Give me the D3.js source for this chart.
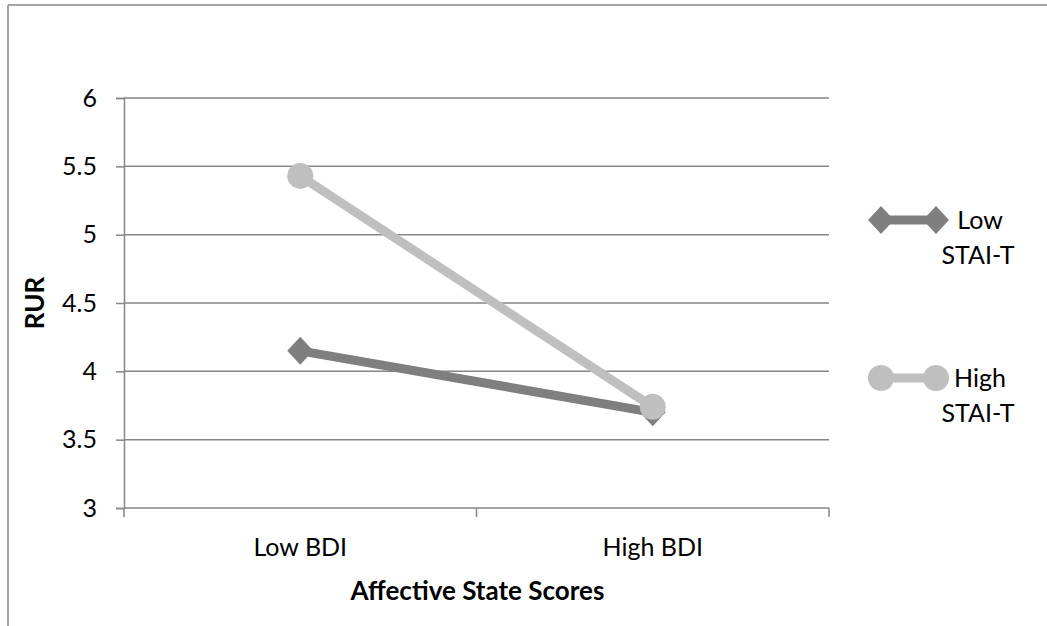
<!DOCTYPE html>
<html>
<head>
<meta charset="utf-8">
<script src="https://cdn.jsdelivr.net/npm/d3@7"></script>
<style>
  html, body { margin: 0; padding: 0; background: #fff; }
  svg { display: block; }
  text { font-family: Lato, "Open Sans", sans-serif; fill: #000; }
</style>
</head>
<body>
<svg id="chart" width="1047" height="626"></svg>
<script>
// Chart data
const categories = ["Low BDI", "High BDI"];
const seriesNames = ["Low STAI-T", "High STAI-T"];
const lowStaiValues = [4.15, 3.70];
const highStaiValues = [5.43, 3.74];
const yTicks = [3, 3.5, 4, 4.5, 5, 5.5, 6];
const xTitle = "Affective State Scores";
const yTitle = "RUR";

const series = [
  { name: seriesNames[0], values: lowStaiValues, color: "#7f7f7f", marker: "diamond", legendLines: ["Low", "STAI-T"] },
  { name: seriesNames[1], values: highStaiValues, color: "#bfbfbf", marker: "circle", legendLines: ["High", "STAI-T"] }
];

const svg = d3.select("#chart");
const W = 1047, H = 626;
const plot = { left: 124, right: 829, top: 98, bottom: 508 };
const gridColor = "#868686";
const fontSize = 25;

// Outer frame (top and left edges visible)
svg.append("line").attr("x1", 8).attr("x2", W).attr("y1", 5).attr("y2", 5)
  .attr("stroke", gridColor).attr("stroke-width", 1.5);
svg.append("line").attr("x1", 8).attr("x2", 8).attr("y1", 5).attr("y2", H)
  .attr("stroke", gridColor).attr("stroke-width", 1.5);

const x = d3.scaleBand().domain(categories).range([plot.left, plot.right]);
const y = d3.scaleLinear().domain([3, 6]).range([plot.bottom, plot.top]);

// Horizontal gridlines
svg.append("g").selectAll("line").data(yTicks.filter(t => t > 3)).join("line")
  .attr("x1", plot.left).attr("x2", plot.right)
  .attr("y1", d => y(d)).attr("y2", d => y(d))
  .attr("stroke", gridColor).attr("stroke-width", 1.5);

// Y axis
const yAxis = svg.append("g").attr("transform", `translate(${plot.left},0)`)
  .call(d3.axisLeft(y).tickValues(yTicks).tickSize(8).tickPadding(19).tickFormat(d3.format("")));
yAxis.select(".domain").attr("stroke", gridColor).attr("stroke-width", 1.5);
yAxis.selectAll(".tick line").attr("stroke", gridColor).attr("stroke-width", 1.5);
yAxis.selectAll("text").attr("font-size", fontSize).style("font-family", "Lato, sans-serif").attr("fill", "#000");

// X axis: ticks at band boundaries
svg.append("line").attr("x1", plot.left).attr("x2", plot.right)
  .attr("y1", plot.bottom).attr("y2", plot.bottom)
  .attr("stroke", gridColor).attr("stroke-width", 1.5);
const boundaries = categories.map(c => x(c)).concat([x(categories[categories.length - 1]) + x.bandwidth()]);
svg.append("g").selectAll("line").data(boundaries).join("line")
  .attr("x1", d => d).attr("x2", d => d)
  .attr("y1", plot.bottom).attr("y2", plot.bottom + 9)
  .attr("stroke", gridColor).attr("stroke-width", 1.5);
svg.append("g").selectAll("text").data(categories).join("text")
  .attr("x", d => x(d) + x.bandwidth() / 2).attr("y", 556)
  .attr("text-anchor", "middle").attr("font-size", fontSize)
  .text(d => d);

// Axis titles
svg.append("text").attr("x", (plot.left + plot.right) / 2 + 1).attr("y", 600)
  .attr("text-anchor", "middle").attr("font-size", 26).attr("font-weight", "bold")
  .text(xTitle);
svg.append("text").attr("transform", `translate(44,${(plot.top + plot.bottom) / 2}) rotate(-90)`)
  .attr("text-anchor", "middle").attr("font-size", 26).attr("font-weight", "bold")
  .text(yTitle);

// Marker drawing helper
function drawMarker(g, type, cx, cy, color) {
  if (type === "circle") {
    g.append("circle").attr("cx", cx).attr("cy", cy).attr("r", 13).attr("fill", color);
  } else {
    const sx = 13, sy = 14;
    g.append("path")
      .attr("d", `M${cx},${cy - sy}L${cx + sx},${cy}L${cx},${cy + sy}L${cx - sx},${cy}Z`)
      .attr("fill", color);
  }
}

// Series lines and markers
const line = d3.line().x((d, i) => x(categories[i]) + x.bandwidth() / 2).y(d => y(d));
series.forEach(s => {
  const g = svg.append("g");
  g.append("path").datum(s.values).attr("d", line)
    .attr("fill", "none").attr("stroke", s.color).attr("stroke-width", 9);
  s.values.forEach((v, i) => drawMarker(g, s.marker, x(categories[i]) + x.bandwidth() / 2, y(v), s.color));
});

// Legend
const legendY = [220, 378];
series.forEach((s, i) => {
  const g = svg.append("g");
  const ly = legendY[i];
  g.append("line").attr("x1", 881).attr("x2", 936).attr("y1", ly).attr("y2", ly)
    .attr("stroke", s.color).attr("stroke-width", 9);
  drawMarker(g, s.marker, 881, ly, s.color);
  drawMarker(g, s.marker, 936, ly, s.color);
  g.append("text").attr("x", 980).attr("y", ly + 9).attr("text-anchor", "middle")
    .attr("font-size", fontSize).text(s.legendLines[0]);
  g.append("text").attr("x", 978).attr("y", ly + 44).attr("text-anchor", "middle")
    .attr("font-size", fontSize).text(s.legendLines[1]);
});
</script>
</body>
</html>
